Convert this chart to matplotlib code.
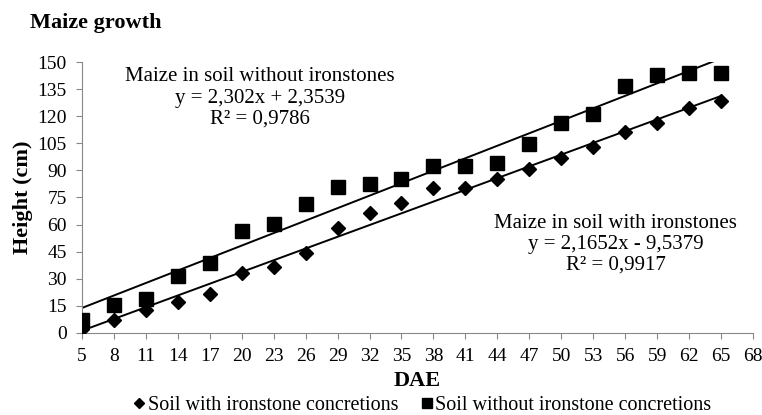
import matplotlib
matplotlib.use('Agg')
import matplotlib.pyplot as plt
from matplotlib.lines import Line2D
import numpy as np

plt.rcParams['font.family'] = ['Liberation Serif', 'DejaVu Serif']

dae = [5, 8, 11, 14, 17, 20, 23, 26, 29, 32, 35, 38, 41, 44, 47, 50, 53, 56, 59, 62, 65]
with_iron = [2, 7, 13, 17, 21.5, 33, 36.5, 44.5, 58, 66.5, 72, 80.5, 80.5, 85.5, 90.5,
             97, 103, 111, 116.5, 124.5, 128.5]
without_iron = [7, 15.5, 19, 31.5, 39, 56.5, 60.5, 71.5, 81, 82.5, 85, 92.5, 92.5, 94,
                104.5, 116, 121, 136.5, 143, 144, 144]

# trend line coefficients as printed on the chart
fit_with = (2.1652, -9.5379)
fit_without = (2.302, 2.3539)

fig = plt.figure(figsize=(7.62, 4.15), dpi=100)
ax = fig.add_axes([0.1076, 0.1976, 0.8805, 0.653])

x = np.array(dae)
ax.plot(x, fit_with[0] * x + fit_with[1], color='black', lw=1.4, zorder=2)
ax.plot(x, fit_without[0] * x + fit_without[1], color='black', lw=1.4, zorder=2)
ax.plot(dae, with_iron, 'D', color='black', markersize=7, ls='none', zorder=3)
ax.plot(dae, without_iron, 's', color='black', markersize=10, ls='none', zorder=3)

ax.set_xlim(5, 68)
ax.set_ylim(0, 150)
ax.set_xticks(range(5, 69, 3))
ax.set_yticks(range(0, 151, 15))
for s in ['top', 'right']:
    ax.spines[s].set_visible(False)
for s in ['left', 'bottom']:
    ax.spines[s].set_color('#888888')
ax.tick_params(colors='#888888', labelcolor='black', labelsize=14, direction='out', length=4)
ax.tick_params(axis='y', pad=7)
ax.tick_params(axis='x', pad=7)

ax.set_xlabel('DAE', fontsize=16, fontweight='bold', labelpad=4)
ax.set_ylabel('Height (cm)', fontsize=16, fontweight='bold', labelpad=3)

ax.text(21.7, 147, 'Maize in soil without ironstones\ny = 2,302x + 2,3539\nR² = 0,9786',
        ha='center', va='top', fontsize=15, linespacing=1.15)
ax.text(55.1, 66, 'Maize in soil with ironstones\ny = 2,1652x - 9,5379\nR² = 0,9917',
        ha='center', va='top', fontsize=15, linespacing=1.15)

fig.text(0.039, 0.945, 'Maize growth', fontsize=16, fontweight='bold', ha='left', va='center')

handles = [Line2D([], [], marker='D', color='black', ls='none', markersize=5),
           Line2D([], [], marker='s', color='black', ls='none', markersize=7)]
fig.legend(handles, ['Soil with ironstone concretions', 'Soil without ironstone concretions'],
           loc='center', bbox_to_anchor=(0.555, 0.022), ncol=2, frameon=False,
           fontsize=14.5, handlelength=0.5, handletextpad=0.15, columnspacing=1.2,
           borderpad=0)

fig.savefig('out.png', dpi=100)
